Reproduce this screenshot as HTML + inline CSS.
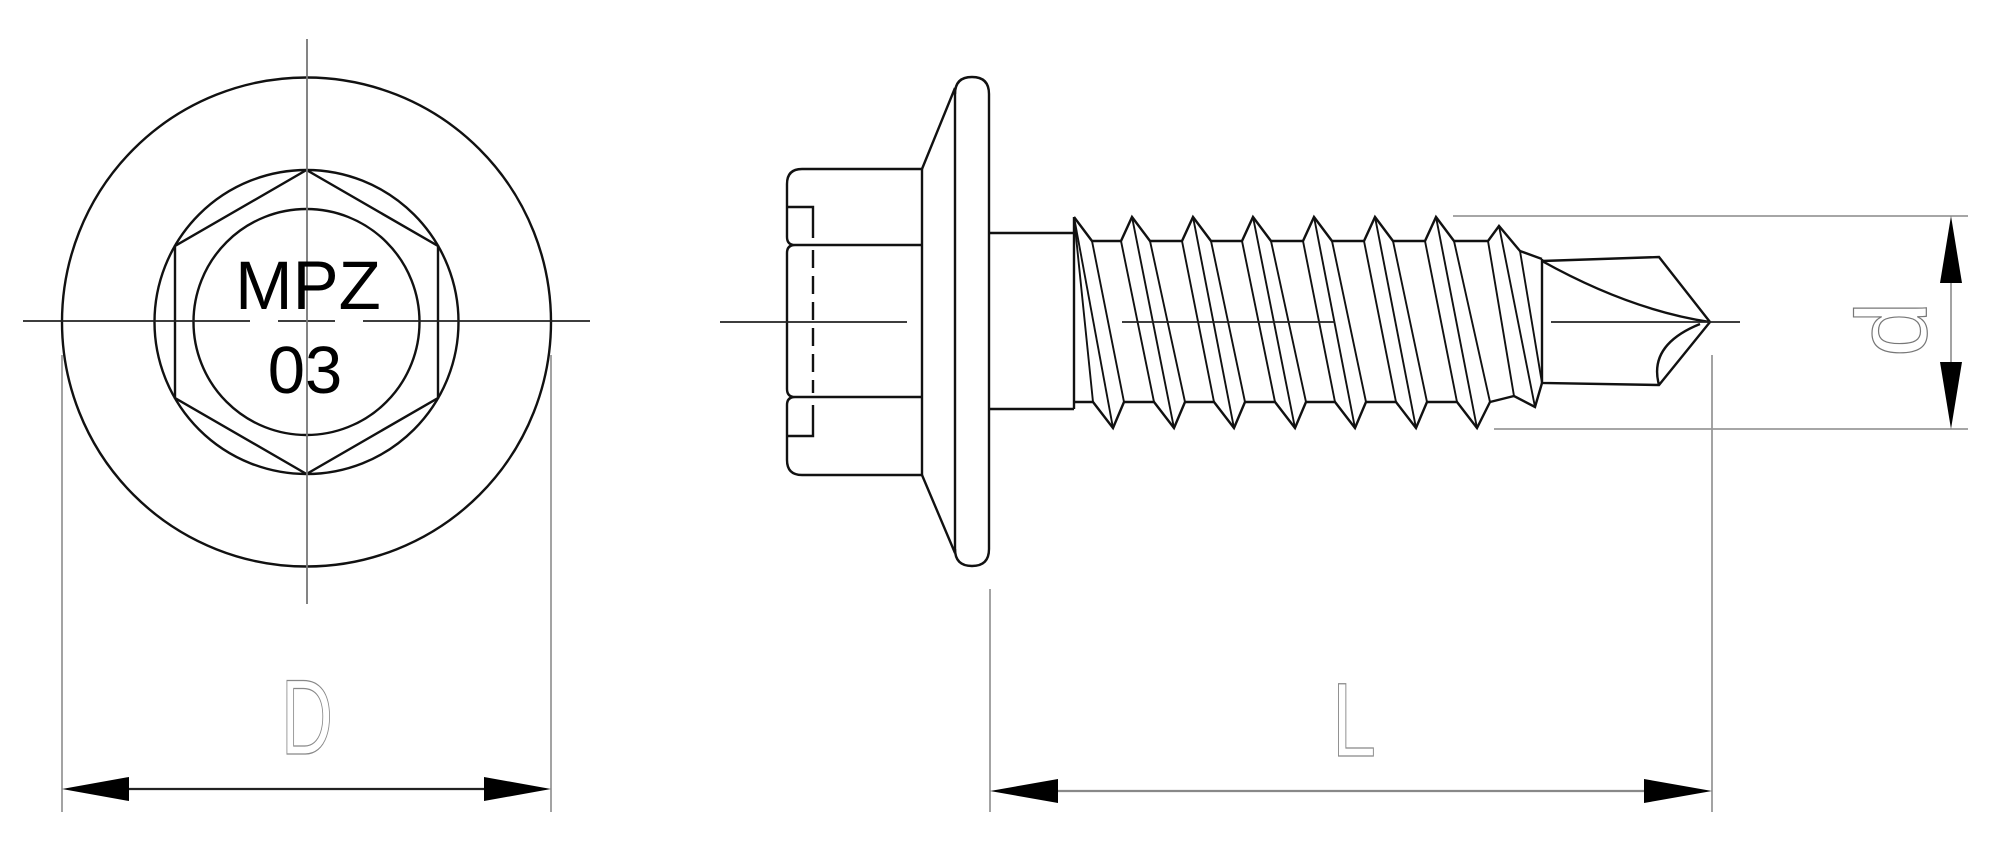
<!DOCTYPE html>
<html><head><meta charset="utf-8"><style>
html,body{margin:0;padding:0;background:#fff;}
svg{display:block;}
</style></head><body>
<svg width="2000" height="851" viewBox="0 0 2000 851" xmlns="http://www.w3.org/2000/svg">
<g fill="none" stroke="#111" stroke-width="2.4">
  <!-- LEFT VIEW -->
  <circle cx="306.5" cy="322" r="244.5"/>
  <circle cx="306.5" cy="322" r="152"/>
  <circle cx="306.5" cy="322" r="113"/>
  <polygon points="306.5,170 438,246 438,398 306.5,474 175,398 175,246"/>
</g>
<g stroke="#222" stroke-width="1.8">
  <line x1="23" y1="321" x2="250" y2="321"/>
  <line x1="278" y1="321" x2="335" y2="321"/>
  <line x1="363" y1="321" x2="590" y2="321"/>
</g>
<line x1="307" y1="39" x2="307" y2="604" stroke="#777" stroke-width="1.8"/>
<g font-family="Liberation Sans, sans-serif" fill="#000" text-anchor="middle">
  <text x="308" y="309" font-size="69">MPZ</text>
  <text x="305" y="393" font-size="67">03</text>
</g>
<!-- D dimension -->
<g stroke="#999" stroke-width="1.8">
  <line x1="62" y1="355" x2="62" y2="812"/>
  <line x1="551" y1="355" x2="551" y2="812"/>
</g>
<line x1="100" y1="789" x2="515" y2="789" stroke="#222" stroke-width="2.2"/>
<polygon points="62,789 129,777 129,801" fill="#000"/>
<polygon points="551,789 484,777 484,801" fill="#000"/>
<text x="307" y="754" font-family="Liberation Sans, sans-serif" font-size="107" fill="none" stroke="#888" stroke-width="1.2" text-anchor="middle" textLength="52" lengthAdjust="spacingAndGlyphs">D</text>

<!-- RIGHT VIEW: head -->
<g fill="none" stroke="#111" stroke-width="2.4">
  <path d="M922,169 L802,169 Q787,169 787,184 L787,237 Q787,245 795,245 Q787,245 787,253 L787,389 Q787,397 795,397 Q787,397 787,405 L787,460 Q787,475 802,475 L922,475 Z"/>
  <line x1="795" y1="245" x2="922" y2="245"/>
  <line x1="795" y1="397" x2="922" y2="397"/>
  <path d="M787,207 L813,207 L813,238"/>
  <path d="M787,436 L813,436 L813,405"/>
  <line x1="813" y1="250" x2="813" y2="393" stroke-dasharray="18,8"/>
  <!-- flange -->
  <path d="M922,169 L955,88 L955,553 L922,475"/>
  <path d="M955,94 Q955,77 972,77 Q989,77 989,94 L989,549 Q989,566 972,566 Q955,566 955,549"/>
  <!-- shank -->
  <line x1="989" y1="233" x2="1074" y2="233"/>
  <line x1="989" y1="409" x2="1074" y2="409"/>
  <line x1="1074" y1="217" x2="1074" y2="409"/>
  <!-- thread outline -->
  <path d="M1074,217 L1092,241 L1121,241 L1132,217 L1150,241 L1182,241 L1193,217 L1211,241 L1242,241 L1253,217 L1271,241 L1303,241 L1314,217 L1332,241 L1364,241 L1375,217 L1393,241 L1425,241 L1436,217 L1454,241 L1488,241 L1499,226 L1520,251 L1542,259"/>
  <path d="M1074,402 L1093,402 L1113,428 L1124,402 L1154,402 L1174,428 L1185,402 L1214,402 L1234,428 L1245,402 L1275,402 L1295,428 L1306,402 L1335,402 L1355,428 L1366,402 L1396,402 L1416,428 L1427,402 L1457,402 L1477,428 L1490,402 L1514,396 L1535,407 L1542,383"/>
  <!-- helix lines -->
  <g stroke-width="1.9">
    <line x1="1074" y1="217" x2="1093" y2="402"/>
    <line x1="1074" y1="217" x2="1113" y2="428"/>
    <line x1="1092" y1="241" x2="1124" y2="402"/>
    <line x1="1121" y1="241" x2="1154" y2="402"/>
    <line x1="1132" y1="217" x2="1174" y2="428"/>
    <line x1="1150" y1="241" x2="1185" y2="402"/>
    <line x1="1182" y1="241" x2="1214" y2="402"/>
    <line x1="1193" y1="217" x2="1234" y2="428"/>
    <line x1="1211" y1="241" x2="1245" y2="402"/>
    <line x1="1242" y1="241" x2="1275" y2="402"/>
    <line x1="1253" y1="217" x2="1295" y2="428"/>
    <line x1="1271" y1="241" x2="1306" y2="402"/>
    <line x1="1303" y1="241" x2="1335" y2="402"/>
    <line x1="1314" y1="217" x2="1355" y2="428"/>
    <line x1="1332" y1="241" x2="1366" y2="402"/>
    <line x1="1364" y1="241" x2="1396" y2="402"/>
    <line x1="1375" y1="217" x2="1416" y2="428"/>
    <line x1="1393" y1="241" x2="1427" y2="402"/>
    <line x1="1425" y1="241" x2="1457" y2="402"/>
    <line x1="1436" y1="217" x2="1477" y2="428"/>
    <line x1="1454" y1="241" x2="1490" y2="402"/>
    <line x1="1488" y1="241" x2="1514" y2="396"/>
    <line x1="1499" y1="226" x2="1535" y2="407"/>
    <line x1="1520" y1="251" x2="1542" y2="383"/>
  </g>
  <!-- pilot -->
  <path d="M1542,259 L1542,383 L1659,385 L1710,322 L1659,257 L1542,261"/>
  <path d="M1542,261 Q1630,310 1710,322"/>
  <path d="M1659,385 Q1648,345 1700,324"/>
</g>
<g stroke="#222" stroke-width="1.8">
  <line x1="720" y1="322" x2="907" y2="322"/>
  <line x1="1122" y1="322" x2="1335" y2="322"/>
  <line x1="1551" y1="322" x2="1740" y2="322"/>
</g>
<!-- d dimension -->
<g stroke="#999" stroke-width="1.8">
  <line x1="1453" y1="216" x2="1968" y2="216"/>
  <line x1="1494" y1="429" x2="1968" y2="429"/>
  <line x1="1951" y1="250" x2="1951" y2="400"/>
  <line x1="1712" y1="355" x2="1712" y2="812"/>
  <line x1="990" y1="589" x2="990" y2="812"/>
</g>
<polygon points="1951,216 1940,283 1962,283" fill="#000"/>
<polygon points="1951,429 1940,362 1962,362" fill="#000"/>
<text x="0" y="0" transform="translate(1926,357) rotate(-90)" font-family="Liberation Sans, sans-serif" font-size="100" fill="none" stroke="#777" stroke-width="1.2">d</text>
<!-- L dimension -->
<line x1="1030" y1="791" x2="1680" y2="791" stroke="#888" stroke-width="2.2"/>
<polygon points="990,791 1058,779 1058,803" fill="#000"/>
<polygon points="1712,791 1644,779 1644,803" fill="#000"/>
<text x="1332" y="756" font-family="Liberation Sans, sans-serif" font-size="105" fill="none" stroke="#888" stroke-width="1.2" textLength="44" lengthAdjust="spacingAndGlyphs">L</text>
</svg>
</body></html>
